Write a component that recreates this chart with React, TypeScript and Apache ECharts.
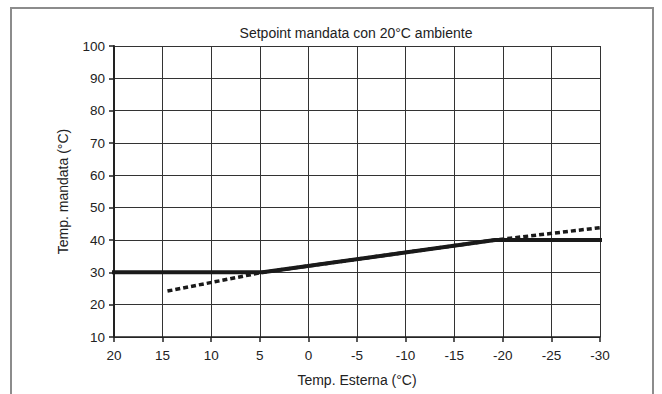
import React, { useEffect, useRef } from "react";
import * as echarts from "echarts";

const title = "Setpoint mandata con 20°C ambiente";
const xAxisName = "Temp. Esterna (°C)";
const yAxisName = "Temp. mandata (°C)";

// Solid line: set-point curve (outside temp, flow temp)
const solidX = [20.4, 4.7, -19.2, -31];
const solidY = [30, 30, 40, 40];

// Dotted line: unlimited curve
const dottedX = [14.5, 4.7, -19.2, -30];
const dottedY = [24.2, 30, 40, 43.8];

export default function App() {
  const ref = useRef<HTMLDivElement>(null);
  useEffect(() => {
    if (!ref.current) return;
    const chart = echarts.init(ref.current, null, { renderer: "svg" });
    const font = "'Liberation Sans', Arial, sans-serif";
    chart.setOption({
      animation: false,
      backgroundColor: "#fff",
      title: {
        text: title,
        left: 351,
        top: 21,
        textAlign: "center",
        textStyle: { fontFamily: font, fontSize: 14, fontWeight: "normal", color: "#222" },
      },
      graphic: [
        {
          type: "rect",
          shape: { x: 11, y: 8, width: 642, height: 400 },
          style: { fill: "none", stroke: "#8c8c8c", lineWidth: 2 },
          silent: true,
          z: -1,
        },
      ],
      grid: { left: 114, right: 62, top: 46, bottom: 57, containLabel: false },
      xAxis: {
        type: "value",
        inverse: true,
        min: -30,
        max: 20,
        interval: 5,
        name: xAxisName,
        nameLocation: "middle",
        nameGap: 36,
        nameTextStyle: { fontFamily: font, fontSize: 14, color: "#222" },
        axisLine: { show: true, onZero: false, lineStyle: { color: "#222", width: 1.5 } },
        axisTick: { show: true, length: 5, lineStyle: { color: "#222", width: 1.5 } },
        axisLabel: { fontFamily: font, fontSize: 13.5, color: "#222", margin: 11 },
        splitLine: { show: true, lineStyle: { color: "#333", width: 1 } },
      },
      yAxis: {
        type: "value",
        min: 10,
        max: 100,
        interval: 10,
        name: yAxisName,
        nameLocation: "middle",
        nameGap: 44,
        nameRotate: 90,
        nameTextStyle: { fontFamily: font, fontSize: 14, color: "#222" },
        axisLine: { show: true, onZero: false, lineStyle: { color: "#222", width: 2 } },
        axisTick: { show: true, length: 5, lineStyle: { color: "#222", width: 1.5 } },
        axisLabel: { fontFamily: font, fontSize: 13.5, color: "#222", margin: 9 },
        splitLine: { show: true, lineStyle: { color: "#333", width: 1 } },
      },
      series: [
        {
          type: "line",
          data: dottedX.map((x, i) => [x, dottedY[i]]),
          symbol: "none",
          clip: false,
          lineStyle: { color: "#1a1a1a", width: 3.5, type: [5, 3] },
          z: 2,
        },
        {
          type: "line",
          data: solidX.map((x, i) => [x, solidY[i]]),
          symbol: "none",
          clip: false,
          lineStyle: { color: "#1a1a1a", width: 4 },
          z: 3,
        },
      ],
    });
    return () => chart.dispose();
  }, []);
  return (
    <div
      ref={ref}
      style={{ position: "fixed", left: 0, top: 0, width: 662, height: 394 }}
    />
  );
}
